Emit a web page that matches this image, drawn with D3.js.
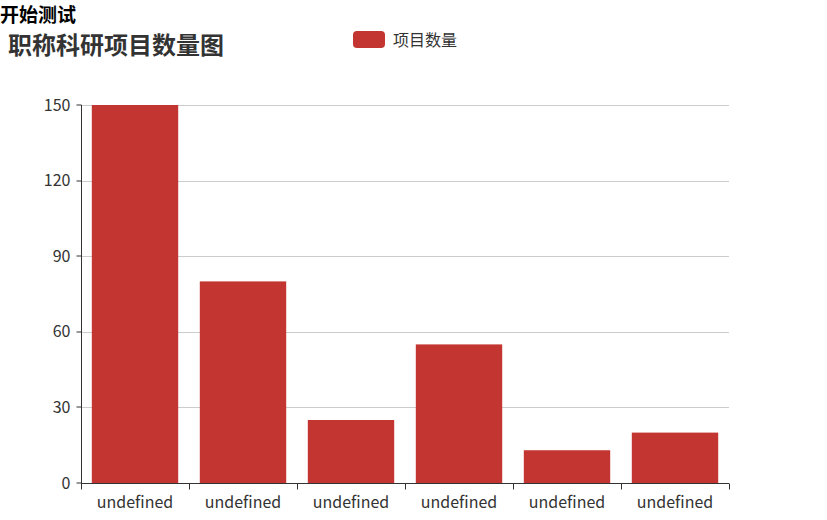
<!DOCTYPE html>
<html>
<head>
<meta charset="utf-8">
<script src="https://cdn.jsdelivr.net/npm/d3@7"></script>
<style>
  body { margin: 0; background: #fff; font-family: "Noto Sans CJK SC", "Noto Sans", sans-serif; }
  .head { position: absolute; left: 0; top: 1px; font-size: 19px; font-weight: bold; color: #000; line-height: 25px; }
  .chart { position: absolute; left: 0; top: 0; }
</style>
</head>
<body>
<div class="chart"></div>
<div class="head">开始测试</div>
<script>
const categories = ['undefined', 'undefined', 'undefined', 'undefined', 'undefined', 'undefined'];
const counts = [150, 80, 25, 55, 13, 20];
const yTicks = [0, 30, 60, 90, 120, 150];
const seriesName = '项目数量';
const chartTitle = '职称科研项目数量图';

const width = 827;
const height = 520;
const margin = { left: 81, right: 98, top: 105, bottom: 37 };
const chartWidth = width - margin.left - margin.right;
const chartHeight = height - margin.top - margin.bottom;
const barColor = '#c23531';

const svg = d3
  .select('.chart')
  .append('svg')
  .attr('width', width)
  .attr('height', height);

svg
  .append('text')
  .attr('x', 8)
  .attr('y', 54)
  .style('font-size', '24px')
  .style('font-weight', 'bold')
  .style('fill', '#333')
  .text(chartTitle);

// legend
const legend = svg.append('g').attr('transform', 'translate(353, 31)');
legend
  .append('rect')
  .attr('width', 32)
  .attr('height', 17)
  .attr('rx', 4)
  .style('fill', barColor);
legend
  .append('text')
  .attr('x', 40)
  .attr('y', 15)
  .style('font-size', '16px')
  .style('fill', '#333')
  .text(seriesName);

const g = svg
  .append('g')
  .attr('transform', `translate(${margin.left}, ${margin.top})`);

const x = d3
  .scaleBand()
  .domain(d3.range(categories.length))
  .range([0, chartWidth])
  .paddingInner(0.2)
  .paddingOuter(0.1);
const xAxisBand = d3
  .scaleBand()
  .domain(d3.range(categories.length))
  .range([0, chartWidth]);
const y = d3.scaleLinear().domain([0, 150]).range([chartHeight, 0]);

// grid
g.selectAll('.grid')
  .data(yTicks.filter((d) => d > 0))
  .enter()
  .append('line')
  .attr('class', 'grid')
  .attr('x1', 0)
  .attr('x2', chartWidth)
  .attr('y1', (d) => Math.round(y(d)) + 0.5)
  .attr('y2', (d) => Math.round(y(d)) + 0.5)
  .style('stroke', '#ccc');

// bars
g.selectAll('.bar')
  .data(counts)
  .enter()
  .append('rect')
  .attr('class', 'bar')
  .attr('x', (d, i) => x(i))
  .attr('y', (d) => y(d))
  .attr('width', x.bandwidth())
  .attr('height', (d) => chartHeight - y(d))
  .style('fill', barColor);

// x axis
const xAxis = g
  .append('g')
  .attr('transform', `translate(0, ${chartHeight + 0.5})`);
xAxis
  .append('line')
  .attr('x1', 0)
  .attr('x2', chartWidth)
  .style('stroke', '#333');
xAxis
  .selectAll('.tick')
  .data(d3.range(categories.length + 1))
  .enter()
  .append('line')
  .attr('x1', (d) => Math.round(d * xAxisBand.step()) + 0.5)
  .attr('x2', (d) => Math.round(d * xAxisBand.step()) + 0.5)
  .attr('y1', 0)
  .attr('y2', 6)
  .style('stroke', '#333');
xAxis
  .selectAll('.label')
  .data(categories)
  .enter()
  .append('text')
  .attr('x', (d, i) => xAxisBand(i) + xAxisBand.bandwidth() / 2)
  .attr('y', 24)
  .attr('text-anchor', 'middle')
  .style('font-size', '16px')
  .style('fill', '#333')
  .text((d) => d);

// y axis
const yAxis = g.append('g').attr('transform', 'translate(0.5, 0)');
yAxis
  .append('line')
  .attr('y1', 0)
  .attr('y2', chartHeight)
  .style('stroke', '#333');
yAxis
  .selectAll('.tick')
  .data(yTicks)
  .enter()
  .append('line')
  .attr('x1', -5)
  .attr('x2', 0)
  .attr('y1', (d) => Math.round(y(d)))
  .attr('y2', (d) => Math.round(y(d)))
  .style('stroke', '#333');
yAxis
  .selectAll('.label')
  .data(yTicks)
  .enter()
  .append('text')
  .attr('x', -11)
  .attr('y', (d) => y(d))
  .attr('dy', '0.35em')
  .attr('text-anchor', 'end')
  .style('font-size', '16px')
  .style('fill', '#333')
  .text((d) => d);
</script>
</body>
</html>
